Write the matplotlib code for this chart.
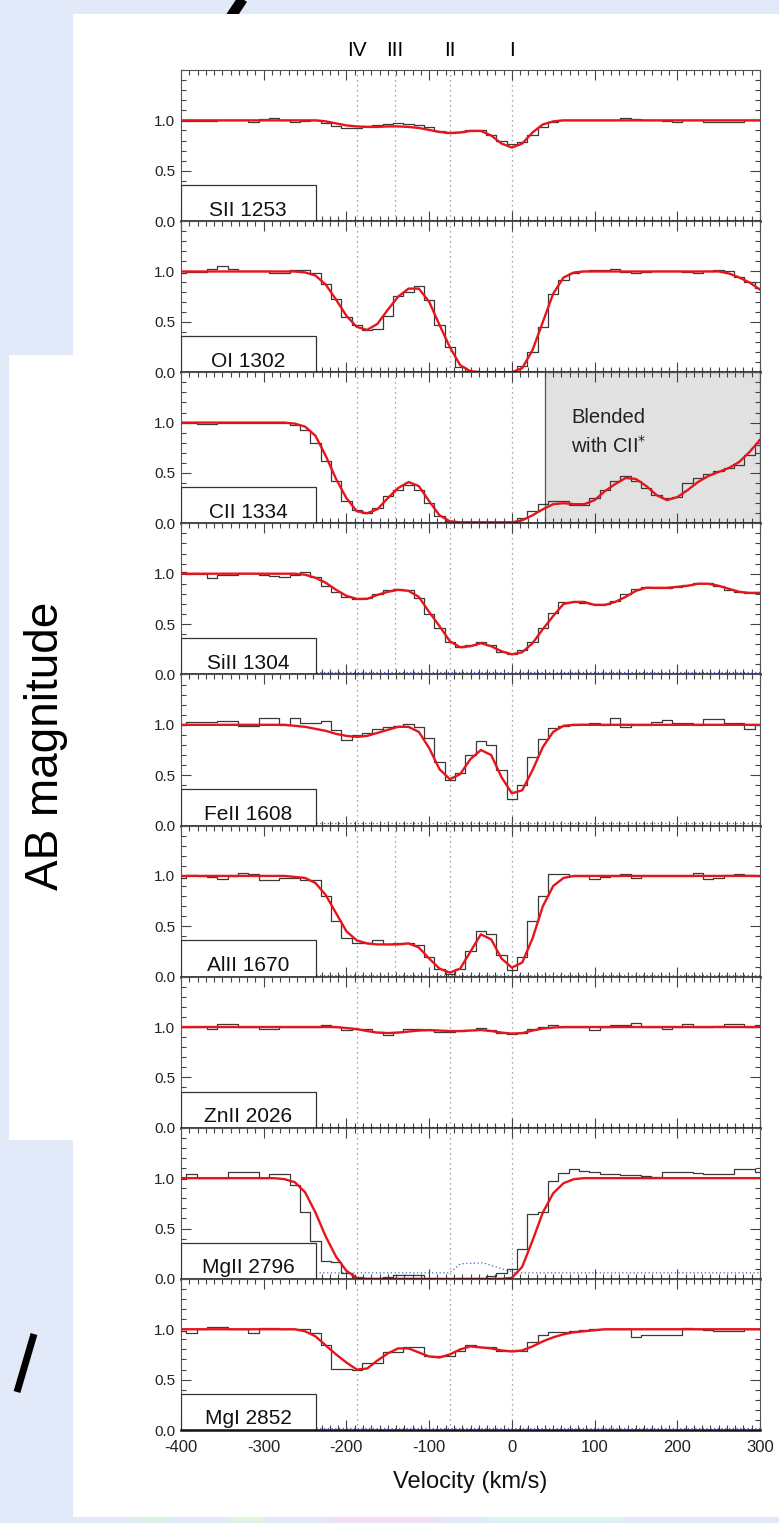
import numpy as np
import matplotlib.pyplot as plt
from matplotlib.lines import Line2D
from matplotlib.patches import Rectangle
from matplotlib.ticker import MultipleLocator

plt.rcParams['font.family'] = ['Liberation Sans', 'DejaVu Sans']

W, H = 779, 1523
bg = '#e2e9f8'

# velocity bins (km/s), bin width 12.5
velocity = np.arange(-400, 300.1, 12.5)

ions = ["SII 1253", "OI 1302", "CII 1334", "SiII 1304", "FeII 1608",
        "AlII 1670", "ZnII 2026", "MgII 2796", "MgI 2852"]

comp_v = [-187, -141, -75, 0]
comp_names = ["IV", "III", "II", "I"]
# which components are marked in each panel
comp_shown = [[0, 1, 2, 3], [0, 2, 3], [0, 1, 2, 3], [0, 1, 2, 3], [0, 2, 3],
              [0, 1, 2, 3], [0, 2, 3], [0, 2, 3], [0, 2, 3]]

sii_model = [1.0] * 14 + [0.99, 0.97, 0.95, 0.94, 0.935, 0.935, 0.94, 0.94, 0.935, 0.925,
             0.905, 0.885, 0.875, 0.88, 0.895, 0.895, 0.85, 0.77, 0.73, 0.77, 0.88, 0.96,
             0.99] + [1.0] * 20
sii_data = [0.99, 0.99, 0.99, 0.99, 1.0, 1.0, 1.0, 0.98, 1.01, 1.02, 1.0, 0.98, 0.99, 1.0,
            0.97, 0.94, 0.92, 0.92, 0.94, 0.95, 0.96, 0.97, 0.96, 0.95, 0.93, 0.89, 0.87,
            0.88, 0.90, 0.90, 0.85, 0.80, 0.77, 0.79, 0.85, 0.93, 0.98, 1.0, 1.0, 1.0, 1.0,
            1.0, 1.0, 1.02, 1.01, 1.0, 1.0, 0.99, 0.98, 1.0, 1.0, 0.98, 0.98, 0.98, 0.98,
            1.0, 1.0]

oi_model = [1.0] * 11 + [1.0, 0.99, 0.96, 0.87, 0.72, 0.56, 0.45, 0.42, 0.48, 0.62, 0.75,
            0.83, 0.83, 0.70, 0.47, 0.25, 0.07, 0.01] + [0.0] * 4 + [0.04, 0.22, 0.50,
            0.78, 0.94, 0.99] + [1.0] * 14 + [0.98, 0.94, 0.89, 0.82]
oi_data = [0.98, 0.99, 0.99, 1.02, 1.05, 1.02, 1.0, 1.0, 1.0, 0.98, 0.98, 1.01, 1.01, 0.98,
           0.88, 0.73, 0.55, 0.47, 0.42, 0.43, 0.56, 0.76, 0.80, 0.86, 0.72, 0.47, 0.25,
           0.05, 0.01, 0.0, 0.0, 0.0, 0.0, 0.06, 0.20, 0.45, 0.78, 0.92, 0.98, 1.0, 1.01,
           1.01, 1.02, 0.99, 0.98, 0.99, 1.0, 1.0, 1.0, 0.99, 0.98, 1.0, 1.01, 1.0, 0.95,
           0.90, 0.84]

cii_model = [1.0] * 11 + [0.99, 0.96, 0.87, 0.67, 0.44, 0.25, 0.12, 0.10, 0.14, 0.25, 0.35,
             0.41, 0.37, 0.22, 0.08, 0.02] + [0.01] * 6 + [0.03, 0.08, 0.14, 0.19, 0.20,
             0.19, 0.19, 0.23, 0.32, 0.39, 0.45, 0.44, 0.37, 0.28, 0.23, 0.26, 0.33, 0.41,
             0.47, 0.51, 0.55, 0.61, 0.71, 0.83]
cii_data = [1.0, 1.0, 0.99, 0.99, 1.0, 1.0, 1.0, 1.0, 1.0, 1.0, 1.0, 0.98, 0.93, 0.80,
            0.62, 0.42, 0.22, 0.13, 0.10, 0.15, 0.27, 0.33, 0.38, 0.33, 0.20, 0.07, 0.02,
            0.01, 0.01, 0.01, 0.01, 0.01, 0.01, 0.05, 0.12, 0.19, 0.22, 0.22, 0.18, 0.18,
            0.25, 0.33, 0.42, 0.47, 0.42, 0.35, 0.28, 0.25, 0.26, 0.40, 0.45, 0.49, 0.52,
            0.55, 0.58, 0.68, 0.78]

siii_model = [1.0] * 12 + [0.99, 0.96, 0.91, 0.84, 0.78, 0.75, 0.75, 0.79, 0.82, 0.84, 0.83,
              0.77, 0.62, 0.48, 0.33, 0.27, 0.28, 0.31, 0.28, 0.23, 0.20, 0.22, 0.31,
              0.45, 0.58, 0.70, 0.72, 0.72, 0.69, 0.69, 0.72, 0.77, 0.83, 0.86, 0.86,
              0.86, 0.87, 0.88, 0.90, 0.90, 0.88, 0.85, 0.82, 0.81, 0.81]
siii_data = [1.02, 1.0, 1.0, 0.96, 0.99, 0.99, 1.01, 1.01, 0.99, 0.98, 0.97, 0.99, 1.02,
             0.97, 0.88, 0.82, 0.77, 0.75, 0.76, 0.80, 0.84, 0.85, 0.84, 0.76, 0.60, 0.46,
             0.32, 0.27, 0.29, 0.32, 0.29, 0.22, 0.20, 0.24, 0.32, 0.46, 0.61, 0.72, 0.72,
             0.71, 0.70, 0.70, 0.73, 0.80, 0.85, 0.87, 0.86, 0.86, 0.87, 0.89, 0.91, 0.91,
             0.88, 0.84, 0.82, 0.81, 0.81]

feii_model = [1.0] * 10 + [1.0, 0.99, 0.98, 0.96, 0.94, 0.91, 0.89, 0.88, 0.89, 0.92, 0.95,
              0.98, 0.98, 0.93, 0.77, 0.56, 0.46, 0.51, 0.66, 0.75, 0.70, 0.48, 0.32,
              0.35, 0.55, 0.78, 0.93, 0.99] + [1.0] * 19
feii_data = [1.0, 1.03, 1.03, 1.03, 1.04, 1.04, 0.99, 0.99, 1.07, 1.07, 1.0, 1.07, 1.02,
             1.02, 1.04, 0.95, 0.85, 0.90, 0.92, 0.96, 0.98, 0.99, 1.01, 0.98, 0.87, 0.63,
             0.45, 0.52, 0.70, 0.84, 0.80, 0.55, 0.26, 0.40, 0.68, 0.86, 0.97, 0.99, 1.0,
             1.01, 1.02, 1.0, 1.07, 0.98, 1.0, 1.0, 1.03, 1.05, 1.02, 1.02, 1.0, 1.06, 1.06,
             1.02, 1.02, 0.96, 1.0]

alii_model = [1.0] * 11 + [0.99, 0.98, 0.93, 0.81, 0.63, 0.45, 0.36, 0.33, 0.32, 0.32, 0.32,
              0.33, 0.29, 0.18, 0.08, 0.04, 0.08, 0.25, 0.42, 0.37, 0.18, 0.09, 0.14,
              0.38, 0.70, 0.90, 0.98] + [1.0] * 19
alii_data = [0.98, 1.01, 1.0, 0.99, 0.97, 1.0, 1.03, 1.02, 0.96, 0.96, 0.98, 0.98, 0.96,
             0.96, 0.80, 0.55, 0.38, 0.33, 0.33, 0.36, 0.32, 0.33, 0.33, 0.31, 0.20, 0.08,
             0.03, 0.08, 0.25, 0.45, 0.42, 0.22, 0.07, 0.20, 0.55, 0.80, 1.02, 1.02, 1.0,
             1.0, 0.97, 0.99, 1.0, 1.02, 0.98, 1.0, 1.0, 1.0, 1.0, 1.0, 1.03, 0.97, 0.98,
             1.01, 1.02, 1.01, 1.0]

znii_model = [1.0] * 16 + [0.99, 0.98, 0.96, 0.945, 0.94, 0.945, 0.955, 0.965, 0.97, 0.965,
              0.96, 0.96, 0.965, 0.97, 0.96, 0.945, 0.935, 0.94, 0.965, 0.985,
              0.995] + [1.0] * 20
znii_data = [1.0, 1.0, 1.0, 0.98, 1.03, 1.03, 1.0, 1.0, 0.98, 0.98, 1.0, 1.0, 1.0, 1.0,
             1.02, 1.0, 0.97, 0.98, 0.98, 0.95, 0.92, 0.95, 0.98, 0.98, 0.97, 0.95, 0.95,
             0.96, 0.97, 0.99, 0.97, 0.94, 0.93, 0.94, 0.98, 1.0, 1.02, 1.0, 1.0, 1.0, 0.97,
             1.0, 1.02, 1.02, 1.04, 1.0, 1.0, 0.98, 1.0, 1.03, 1.0, 1.0, 1.01, 1.03, 1.03,
             1.0, 1.02]

mgii_model = [1.0] * 10 + [0.99, 0.96, 0.86, 0.66, 0.42, 0.22, 0.08, 0.01] + [0.0] * 14 + \
             [0.01, 0.12, 0.38, 0.66, 0.85, 0.95, 0.99] + [1.0] * 18
mgii_data = [0.99, 1.04, 1.0, 1.0, 1.0, 1.06, 1.06, 1.06, 1.0, 1.04, 1.04, 0.93, 0.66, 0.38,
             0.18, 0.17, 0.06, 0.02, 0.01, 0.0, 0.02, 0.04, 0.04, 0.04, 0.0, 0.0, 0.0, 0.0,
             0.0, 0.0, 0.03, 0.06, 0.10, 0.30, 0.64, 0.66, 0.97, 1.05, 1.09, 1.07, 1.06,
             1.04, 1.04, 1.03, 1.03, 1.02, 1.01, 1.06, 1.06, 1.06, 1.05, 1.04, 1.04, 1.04,
             1.09, 1.09, 1.06]

mgi_model = [1.0] * 12 + [0.98, 0.93, 0.84, 0.75, 0.67, 0.60, 0.61, 0.69, 0.76, 0.81, 0.81,
             0.77, 0.73, 0.72, 0.75, 0.80, 0.83, 0.82, 0.81, 0.79, 0.78, 0.79, 0.83, 0.88,
             0.92, 0.95, 0.97, 0.98, 0.99] + [1.0] * 16
mgi_data = [0.98, 0.96, 1.0, 1.02, 1.02, 1.0, 1.0, 0.96, 1.01, 1.01, 1.0, 1.0, 1.0, 0.96,
            0.84, 0.61, 0.61, 0.60, 0.67, 0.67, 0.77, 0.77, 0.82, 0.82, 0.73, 0.73, 0.73,
            0.78, 0.84, 0.82, 0.82, 0.78, 0.78, 0.78, 0.87, 0.94, 0.97, 0.97, 0.98, 0.99,
            1.0, 1.0, 1.0, 1.0, 0.92, 0.94, 0.94, 0.94, 0.94, 1.01, 1.0, 0.99, 0.98, 0.98,
            0.98, 1.0, 1.0]

models = [sii_model, oi_model, cii_model, siii_model, feii_model,
          alii_model, znii_model, mgii_model, mgi_model]
datas = [sii_data, oi_data, cii_data, siii_data, feii_data,
         alii_data, znii_data, mgii_data, mgi_data]

# error spectra (blue dotted), as (velocity, value) nodes
err_v = [[-237, 300]] * 7 + [[-237, -75, -62, -35, -12, 5, 300], [-237, 300]]
err_f = [[0.01, 0.01], [0.01, 0.01], [0.01, 0.01], [0.02, 0.02], [0.03, 0.03],
         [0.02, 0.02], [0.01, 0.01], [0.06, 0.06, 0.15, 0.16, 0.10, 0.06, 0.06],
         [0.02, 0.02]]

blend_range = [40, 300]

fig = plt.figure(figsize=(W / 100, H / 100), dpi=100, facecolor=bg)


def box(x0, y0, x1, y1, **kw):
    # rectangle in figure pixel coordinates (y down)
    fig.add_artist(Rectangle((x0 / W, 1 - y1 / H), (x1 - x0) / W, (y1 - y0) / H,
                             transform=fig.transFigure, **kw))


def seg(x0, y0, x1, y1, **kw):
    fig.add_artist(Line2D([x0 / W, x1 / W], [1 - y0 / H, 1 - y1 / H],
                          transform=fig.transFigure, **kw))


# decorations of the slide behind the figure
seg(226, 24, 246, -6, color='black', lw=7.5, zorder=-10, solid_capstyle='butt')
box(73, 14, 779, 1517, facecolor='white', edgecolor='none', zorder=-5)
box(9, 355, 73, 1140, facecolor='white', edgecolor='none', zorder=-5)
seg(17, 1392, 34, 1334, color='black', lw=5, solid_capstyle='butt')
for x0, x1, c in [(140, 165, '#d6f5dc'), (230, 262, '#e2f7d8'), (330, 440, '#f7dcf5'),
                  (490, 620, '#d8f7f5')]:
    seg(x0, 1519, x1, 1519, color=c, lw=2.5)

fig.text(46 / W, 1 - 746 / H, "AB magnitude", rotation=90, fontsize=33,
         ha='center', va='center')

left, right, top, bottom = 181, 760, 70, 1430
ph = (bottom - top) / len(ions)
axes = []
for i, ion in enumerate(ions):
    y_top = top + i * ph
    ax = fig.add_axes([left / W, 1 - (y_top + ph) / H, (right - left) / W, ph / H])
    axes.append(ax)
    ax.set_xlim(-400, 300)
    ax.set_ylim(0, 1.5)

    for j in comp_shown[i]:
        ax.axvline(comp_v[j], color='#8a8a8a', lw=0.9, ls=(0, (1, 3)), zorder=1)

    if i == 2:
        ax.add_patch(Rectangle((blend_range[0], 0), blend_range[1] - blend_range[0], 1.5,
                               facecolor='#e1e1e1', edgecolor='#555555', lw=0.9, zorder=0.5))
        ax.text(72, 1.0, "Blended", fontsize=14.5, color='#222222', va='baseline', zorder=6)
        ax.text(72, 0.70, "with CII$^{*}$", fontsize=14.5, color='#222222',
                va='baseline', zorder=6)

    ax.plot(err_v[i], err_f[i], color='#4a5cc8', lw=0.9, ls=(0, (1, 2)), zorder=2)
    ax.plot(velocity, datas[i], drawstyle='steps-mid', color='#3a3a3a', lw=0.9, zorder=3)
    ax.plot(velocity, models[i], color='#e8141c', lw=1.7, zorder=4)

    ax.add_patch(Rectangle((-400, 0), 163, 0.36, facecolor='white', edgecolor='#333333',
                           lw=0.9, zorder=5))
    ax.text(-319, 0.055, ion, fontsize=15, ha='center', va='baseline', color='#111111',
            zorder=6)

    ax.xaxis.set_major_locator(MultipleLocator(100))
    ax.xaxis.set_minor_locator(MultipleLocator(10))
    ax.yaxis.set_major_locator(MultipleLocator(0.5))
    ax.yaxis.set_minor_locator(MultipleLocator(0.1))
    ax.set_yticks([0, 0.5, 1.0])
    ax.set_yticklabels(["0.0", "0.5", "1.0"])
    ax.tick_params(which='both', direction='in', top=True, right=True, color='#444444',
                   width=0.8, labelsize=11, labelcolor='#222222')
    ax.tick_params(which='major', length=7, pad=4)
    ax.tick_params(which='minor', length=3.5)
    for s in ['left', 'right', 'top']:
        ax.spines[s].set_color('#555555')
        ax.spines[s].set_linewidth(0.8)
    ax.spines['bottom'].set_color('#111111')
    ax.spines['bottom'].set_linewidth(1.8)
    ax.spines['bottom'].set_zorder(7)
    if i < len(ions) - 1:
        ax.tick_params(labelbottom=False)
    else:
        ax.set_xticks([-400, -300, -200, -100, 0, 100, 200, 300])
        ax.set_xticklabels(["-400", "-300", "-200", "-100", "0", "100", "200", "300"])
        ax.tick_params(axis='x', pad=7, labelsize=12)
        ax.set_xlabel("Velocity (km/s)", fontsize=17, labelpad=12, color='#111111')

# component labels above the top panel
for v, name in zip(comp_v, comp_names):
    axes[0].text(v, 1.6, name, fontsize=15, ha='center', va='bottom',
                 transform=axes[0].transData)

fig.savefig("out.png", dpi=100, facecolor=bg)
